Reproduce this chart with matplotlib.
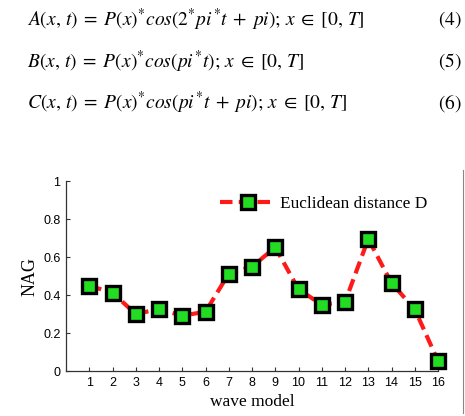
import matplotlib
matplotlib.use('Agg')
import matplotlib.pyplot as plt
from matplotlib.lines import Line2D

plt.rcParams['mathtext.fontset'] = 'stix'

# data
wave_model = list(range(1, 17))
nag = [0.449, 0.412, 0.300, 0.326, 0.291, 0.312, 0.512, 0.549,
       0.651, 0.430, 0.349, 0.363, 0.695, 0.463, 0.325, 0.053]
y_ticks = [0, 0.2, 0.4, 0.6, 0.8, 1]
y_tick_labels = ['0', '0.2', '0.4', '0.6', '0.8', '1']

equations = [r'$A(x,\,t)\;=\;P(x)^{*}cos(2^{*}pi^{*}t\;+\;pi);\,x\;\in\;[0,\,T]$',
             r'$B(x,\,t)\;=\;P(x)^{*}cos(pi^{*}t);\,x\;\in\;[0,\,T]$',
             r'$C(x,\,t)\;=\;P(x)^{*}cos(pi^{*}t\;+\;pi);\,x\;\in\;[0,\,T]$']
eq_numbers = ['(4)', '(5)', '(6)']

fig = plt.figure(figsize=(4.65, 4.16), dpi=100)

eq_y = [1 - 20 / 416, 1 - 62 / 416, 1 - 103 / 416]
for eq, num, yy in zip(equations, eq_numbers, eq_y):
    fig.text(27 / 465, yy, eq, fontsize=14, va='center', ha='left')
    fig.text(462 / 465, yy, r'$' + num + '$', fontsize=14, va='center', ha='right')

ax = fig.add_axes([66 / 465, 1 - 371 / 416, (438 - 66) / 465, (371 - 181) / 416])
ax.plot(wave_model, nag, color='#ff1a1a', linestyle=(0, (3, 1.5)), linewidth=3,
        marker='s', markersize=10, markerfacecolor='#22dd22',
        markeredgecolor='black', markeredgewidth=2.4, clip_on=False,
        label='Euclidean distance D')

ax.set_xlim(0, 16)
ax.set_ylim(0, 1)
ax.set_xticks(wave_model)
ax.set_xticklabels([str(v) for v in wave_model], fontfamily='Liberation Sans', fontsize=9)
ax.set_yticks(y_ticks)
ax.set_yticklabels(y_tick_labels, fontfamily='Liberation Sans', fontsize=9)
ax.tick_params(direction='in', length=3, width=0.8, colors='#333333', labelcolor='black', pad=4)
for side in ['top', 'right']:
    ax.spines[side].set_visible(False)
for side in ['left', 'bottom']:
    ax.spines[side].set_color('#333333')
    ax.spines[side].set_linewidth(0.9)

ax.set_xlabel('wave model', fontfamily='Liberation Serif', fontsize=12.5, labelpad=4)
ax.set_ylabel('NAG', fontfamily='Liberation Serif', fontsize=13, labelpad=3)

leg = ax.legend(loc='upper right', bbox_to_anchor=(1.0, 0.975), frameon=False,
                prop={'family': 'Liberation Serif', 'size': 12.4},
                handlelength=3.2, handletextpad=0.3, borderaxespad=0.2)

# thin border line at the right edge of the scan
fig.add_artist(Line2D([463 / 465, 463 / 465], [1 - 413 / 416, 1 - 170 / 416],
                      color='#888888', linewidth=0.8))

fig.savefig('out.png', dpi=100)
